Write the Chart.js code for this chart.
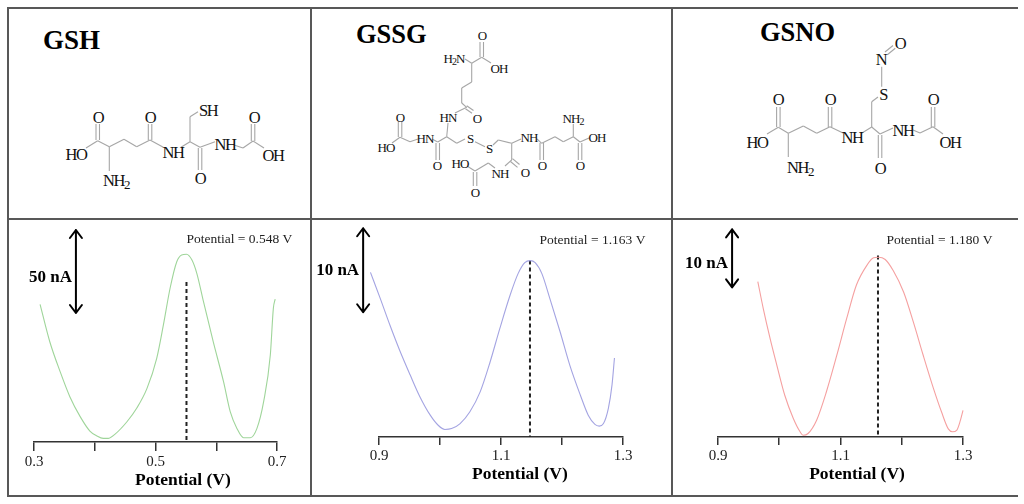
<!DOCTYPE html>
<html><head><meta charset="utf-8">
<script src="https://cdn.jsdelivr.net/npm/chart.js@4.4.1/dist/chart.umd.min.js"></script>
<style>
html,body{margin:0;padding:0;background:#fff;}
#wrap{position:relative;width:1024px;height:504px;overflow:hidden;background:#fff;}
svg{position:absolute;left:0;top:0;}
canvas{position:absolute;}
.mol text{font-family:'Liberation Serif',serif;fill:#111;text-anchor:middle;dominant-baseline:central;}
.b line{stroke:#a6a6a6;stroke-width:1.1;}
.frame line{stroke:#585858;stroke-width:2;}
.ttl{font-family:'Liberation Serif',serif;font-weight:bold;font-size:27px;fill:#000;}
</style></head><body>
<div id="wrap">
<svg width="1024" height="504">
<g class="frame">
<line x1="7" y1="8" x2="1018" y2="8"/>
<line x1="8" y1="7" x2="8" y2="497"/>
<line x1="7" y1="496" x2="1018" y2="496"/>
<line x1="7" y1="219" x2="1018" y2="219"/>
<line x1="311" y1="7" x2="311" y2="497"/>
<line x1="672" y1="7" x2="672" y2="497"/>
</g>
<text class="ttl" x="43" y="49">GSH</text>
<text class="ttl" x="356" y="43" style="font-size:26.5px">GSSG</text>
<text class="ttl" x="760" y="41" style="font-size:26.5px">GSNO</text>

<!-- GSH -->
<g class="mol b">
<line x1="96" y1="124" x2="96" y2="140"/><line x1="99.5" y1="124" x2="99.5" y2="140"/>
<line x1="97.7" y1="140.7" x2="86" y2="148"/>
<line x1="97.7" y1="140.7" x2="109.3" y2="146.7"/>
<line x1="109.3" y1="146.7" x2="109.3" y2="171"/>
<line x1="109.3" y1="146.7" x2="124" y2="139.3"/>
<line x1="124" y1="139.3" x2="136.7" y2="146.7"/>
<line x1="136.7" y1="146.7" x2="150" y2="140"/>
<line x1="148.3" y1="124" x2="148.3" y2="140"/><line x1="151.8" y1="124" x2="151.8" y2="140"/>
<line x1="150" y1="140" x2="163.3" y2="147.3"/>
<line x1="181" y1="147.3" x2="190" y2="141.7"/>
<line x1="190" y1="141.7" x2="190" y2="116.7"/>
<line x1="190" y1="116.7" x2="198" y2="111.7"/>
<line x1="190" y1="141.7" x2="200" y2="147.3"/>
<line x1="198.3" y1="148" x2="198.3" y2="170"/><line x1="201.8" y1="148" x2="201.8" y2="170"/>
<line x1="200" y1="147.3" x2="215" y2="141.7"/>
<line x1="234" y1="145" x2="243" y2="148"/>
<line x1="243" y1="148" x2="253" y2="141"/>
<line x1="251.3" y1="124" x2="251.3" y2="141"/><line x1="254.8" y1="124" x2="254.8" y2="141"/>
<line x1="253" y1="141" x2="264" y2="148"/>
</g>
<g class="mol" style="font-size:16.5px;letter-spacing:-1.5px">
<text x="98" y="117">O</text>
<text x="76" y="154">HO</text>
<text x="116" y="180">NH<tspan dy="4" style="font-size:13px">2</tspan></text>
<text x="150" y="117">O</text>
<text x="173" y="152">NH</text>
<text x="208" y="110">SH</text>
<text x="200" y="178">O</text>
<text x="225" y="144">NH</text>
<text x="254" y="117">O</text>
<text x="273" y="155">OH</text>
</g>

<!-- GSSG -->
<g class="mol b">
<line x1="480" y1="42" x2="480" y2="57"/><line x1="483.5" y1="42" x2="483.5" y2="57"/>
<line x1="481.7" y1="57.3" x2="491" y2="63"/>
<line x1="481.7" y1="57.3" x2="471.7" y2="63.3"/>
<line x1="471.7" y1="63.3" x2="465" y2="59"/>
<line x1="471.7" y1="63.3" x2="471.7" y2="82"/>
<line x1="471.7" y1="82" x2="461.7" y2="88"/>
<line x1="461.7" y1="88" x2="461.7" y2="103"/>
<line x1="461.7" y1="103" x2="466.7" y2="107.3"/>
<line x1="466.7" y1="105.8" x2="473.5" y2="110.5"/><line x1="465.5" y1="108.8" x2="472" y2="113.2"/>
<line x1="466.7" y1="107.3" x2="455" y2="113"/>
<line x1="448" y1="123" x2="446.7" y2="136.7"/>
<line x1="398.3" y1="122" x2="398.3" y2="137"/><line x1="401.8" y1="122" x2="401.8" y2="137"/>
<line x1="400" y1="137.3" x2="392" y2="143"/>
<line x1="400" y1="137.3" x2="410" y2="141.7"/>
<line x1="410" y1="141.7" x2="418" y2="139"/>
<line x1="432" y1="139" x2="437.7" y2="142"/>
<line x1="436" y1="143" x2="436" y2="160"/><line x1="439.5" y1="143" x2="439.5" y2="160"/>
<line x1="437.7" y1="142" x2="446.7" y2="136.7"/>
<line x1="446.7" y1="136.7" x2="456.7" y2="143.3"/>
<line x1="456.7" y1="143.3" x2="465" y2="139"/>
<line x1="475" y1="141.7" x2="485" y2="146.7"/>
<line x1="493" y1="145" x2="498.3" y2="140"/>
<line x1="498.3" y1="140" x2="511.7" y2="143.3"/>
<line x1="511.7" y1="143.3" x2="521" y2="139"/>
<line x1="537" y1="139" x2="541.7" y2="143.3"/>
<line x1="540" y1="143" x2="540" y2="160"/><line x1="543.5" y1="143" x2="543.5" y2="160"/>
<line x1="541.7" y1="143.3" x2="555" y2="136.7"/>
<line x1="555" y1="136.7" x2="563.3" y2="141.7"/>
<line x1="563.3" y1="141.7" x2="573.3" y2="136.7"/>
<line x1="573.3" y1="136.7" x2="573.3" y2="124"/>
<line x1="573.3" y1="136.7" x2="580" y2="142"/>
<line x1="578.3" y1="143" x2="578.3" y2="160"/><line x1="581.8" y1="143" x2="581.8" y2="160"/>
<line x1="580" y1="142" x2="589" y2="138"/>
<line x1="511.7" y1="143.3" x2="511.7" y2="160"/>
<line x1="512.5" y1="158.7" x2="519.5" y2="164.5"/><line x1="510.5" y1="161.5" x2="517.5" y2="167.3"/>
<line x1="511.7" y1="160" x2="505" y2="166"/>
<line x1="495" y1="168" x2="488.3" y2="163"/>
<line x1="488.3" y1="163" x2="475" y2="171"/>
<line x1="475" y1="171" x2="467" y2="166"/>
<line x1="473.3" y1="172" x2="473.3" y2="186"/><line x1="476.8" y1="172" x2="476.8" y2="186"/>
</g>
<g class="mol" style="font-size:13px;letter-spacing:-1px">
<text x="482" y="35">O</text>
<text x="454" y="58">H<tspan dy="3" style="font-size:10px">2</tspan><tspan dy="-3">N</tspan></text>
<text x="499" y="68">OH</text>
<text x="448" y="117">HN</text>
<text x="477" y="118">O</text>
<text x="400" y="117">O</text>
<text x="386" y="147">HO</text>
<text x="425" y="138">HN</text>
<text x="470" y="138">S</text>
<text x="489" y="148">S</text>
<text x="529" y="137">NH</text>
<text x="573" y="118">NH<tspan dy="3" style="font-size:10px">2</tspan></text>
<text x="597" y="137">OH</text>
<text x="437" y="165">O</text>
<text x="460" y="163">HO</text>
<text x="500" y="173">NH</text>
<text x="525" y="172">O</text>
<text x="542" y="165">O</text>
<text x="580" y="165">O</text>
<text x="475" y="192">O</text>
</g>

<!-- GSNO -->
<g class="mol b">
<line x1="885" y1="52" x2="893" y2="45.5"/><line x1="887.3" y1="54.8" x2="895.3" y2="48.3"/>
<line x1="881.7" y1="66.7" x2="881.7" y2="86.7"/>
<line x1="878" y1="97" x2="871.7" y2="101.7"/>
<line x1="871.7" y1="101.7" x2="871.7" y2="127"/>
<line x1="776.6" y1="107" x2="776.6" y2="127"/><line x1="780.1" y1="107" x2="780.1" y2="127"/>
<line x1="778.3" y1="127.3" x2="767" y2="134"/>
<line x1="778.3" y1="127.3" x2="788.3" y2="133.3"/>
<line x1="788.3" y1="133.3" x2="788.3" y2="157"/>
<line x1="788.3" y1="133.3" x2="803.3" y2="126"/>
<line x1="803.3" y1="126" x2="816.7" y2="133.3"/>
<line x1="816.7" y1="133.3" x2="830" y2="126.7"/>
<line x1="828.3" y1="107" x2="828.3" y2="127"/><line x1="831.8" y1="107" x2="831.8" y2="127"/>
<line x1="830" y1="126.7" x2="843" y2="133"/>
<line x1="862" y1="133" x2="871.7" y2="127"/>
<line x1="871.7" y1="127" x2="880" y2="134"/>
<line x1="878.3" y1="135" x2="878.3" y2="158"/><line x1="881.8" y1="135" x2="881.8" y2="158"/>
<line x1="880" y1="134" x2="893" y2="128"/>
<line x1="913" y1="130" x2="920" y2="133"/>
<line x1="920" y1="133" x2="933" y2="126.7"/>
<line x1="931.3" y1="107" x2="931.3" y2="127"/><line x1="934.8" y1="107" x2="934.8" y2="127"/>
<line x1="933" y1="126.7" x2="943" y2="134"/>
</g>
<g class="mol" style="font-size:16.5px;letter-spacing:-1.5px">
<text x="900" y="43">O</text>
<text x="881" y="59">N</text>
<text x="883" y="94">S</text>
<text x="778" y="99">O</text>
<text x="757" y="142">HO</text>
<text x="800" y="167">NH<tspan dy="4" style="font-size:13px">2</tspan></text>
<text x="830" y="99">O</text>
<text x="852" y="137">NH</text>
<text x="880" y="168">O</text>
<text x="903" y="130">NH</text>
<text x="933" y="99">O</text>
<text x="950" y="142">OH</text>
</g>
</svg>
<canvas id="c1" width="302" height="274" style="left:8px;top:221px;width:302px;height:274px"></canvas>
<canvas id="c2" width="359" height="274" style="left:312px;top:221px;width:359px;height:274px"></canvas>
<canvas id="c3" width="345" height="274" style="left:673px;top:221px;width:345px;height:274px"></canvas>
</div>
<script>
// ---- Data (potential in V, current in nA relative to axis baseline) ----
const gshPotential = [0.310,0.326,0.343,0.359,0.376,0.392,0.403,0.414,0.422,0.433,0.453,0.469,0.486,0.502,0.513,0.524,0.535,0.543,0.551,0.560,0.568,0.579,0.595,0.612,0.623,0.634,0.645,0.656,0.667,0.678,0.689,0.694,0.697];
const gshCurrent   = [82.9,60.4,42.4,27.3,15.3,6.6,3.8,2.2,2.2,4.6,12.2,20.3,32.3,50.4,70.5,92.6,108.6,112.7,113.1,109.6,101.6,84.5,60.4,36.3,18.3,8.2,2.6,2.6,8.2,24.3,52.4,80.5,86.1];

const gssgPotential = [0.886,0.902,0.918,0.934,0.951,0.967,0.984,0.997,1.008,1.019,1.033,1.049,1.066,1.082,1.098,1.115,1.128,1.139,1.148,1.156,1.167,1.180,1.197,1.213,1.230,1.243,1.254,1.261,1.268,1.276,1.282,1.286];
const gssgCurrent   = [19.6,16.5,13.3,10.3,7.4,4.8,2.6,1.4,0.9,1.0,1.6,3.0,5.4,8.9,12.9,16.9,19.45,20.76,21.0,20.76,19.45,16.5,12.5,8.5,5.0,2.6,1.5,1.3,1.6,3.4,6.2,9.4];

const gsnoPotential = [0.965,0.974,0.985,0.996,1.009,1.023,1.034,1.039,1.047,1.061,1.077,1.094,1.110,1.126,1.143,1.154,1.162,1.173,1.186,1.203,1.219,1.235,1.252,1.265,1.276,1.283,1.290,1.295,1.300];
const gsnoCurrent   = [26.8,22.1,17.0,12.4,7.2,3.2,0.9,0.3,0.6,2.9,7.8,14.1,20.4,26.2,29.6,30.9,31.0,30.6,28.7,25.0,19.8,14.1,8.3,4.3,1.4,0.9,1.2,2.6,4.6];

const peakPotential = [0.551, 1.1475, 1.1612];       // dashed marker positions
const peakMarkTop   = [96.4, 21.0, 31.3];             // dashed marker top (nA)
const peakLabels    = ['Potential = 0.548 V','Potential = 1.163 V','Potential = 1.180 V'];
const scaleBarNA    = [50, 10, 10];
const scaleLabels   = ['50 nA','10 nA','10 nA'];
const tickLabels1   = ['0.3','0.5','0.7'];
const tickLabels23  = ['0.9','1.1','1.3'];
const axisTitle     = 'Potential (V)';

Chart.defaults.font.family = "'Liberation Serif', serif";

const annot = {
  id: 'annot',
  afterDatasetsDraw(chart, args, o) {
    const {ctx, chartArea} = chart;
    const x = chart.scales.x, y = chart.scales.y;
    ctx.save();
    const ax = x.getPixelForValue(o.arrowX);
    const ay1 = y.getPixelForValue(o.arrowTop);
    const ay2 = y.getPixelForValue(o.arrowTop - o.arrowSpan);
    ctx.strokeStyle = '#000'; ctx.lineWidth = 2; ctx.lineCap = 'round'; ctx.lineJoin = 'round';
    ctx.beginPath();
    ctx.moveTo(ax, ay1); ctx.lineTo(ax, ay2);
    ctx.moveTo(ax - 6, ay1 + 8); ctx.lineTo(ax, ay1); ctx.lineTo(ax + 6, ay1 + 8);
    ctx.moveTo(ax - 6, ay2 - 8); ctx.lineTo(ax, ay2); ctx.lineTo(ax + 6, ay2 - 8);
    ctx.stroke();
    ctx.fillStyle = '#000';
    ctx.font = "bold 17px 'Liberation Serif'";
    ctx.textAlign = 'right'; ctx.textBaseline = 'middle';
    ctx.fillText(o.scaleText, ax - 4, y.getPixelForValue(o.scaleTextY));
    ctx.font = "13.5px 'Liberation Serif'";
    ctx.textAlign = 'center'; ctx.fillStyle = '#222';
    ctx.fillText(o.peakText, x.getPixelForValue(o.peakTextX), y.getPixelForValue(o.peakTextY));
    ctx.font = "bold 17.5px 'Liberation Serif'"; ctx.fillStyle = '#000';
    ctx.fillText(axisTitle, x.getPixelForValue(o.titleX), chartArea.bottom + o.titleDy);
    ctx.restore();
  }
};

function makeChart(id, xs, ys, idx, cfg) {
  const pts = xs.map((v, i) => ({x: v, y: ys[i]}));
  const dash = [{x: peakPotential[idx], y: peakMarkTop[idx]}, {x: peakPotential[idx], y: 0}];
  return new Chart(document.getElementById(id), {
    type: 'line',
    data: { datasets: [
      { data: pts, borderColor: cfg.color, borderWidth: 1.1, pointRadius: 0, cubicInterpolationMode: 'monotone', fill: false, clip: false },
      { data: dash, borderColor: '#222', borderWidth: 2, borderDash: [4, 3], pointRadius: 0, fill: false, clip: false }
    ]},
    options: {
      responsive: false, animation: false, devicePixelRatio: 1,
      layout: { padding: cfg.pad },
      plugins: { legend: {display: false}, tooltip: {enabled: false}, annot: cfg.annot },
      scales: {
        x: {
          type: 'linear', min: cfg.min, max: cfg.max,
          afterFit: s => { s.height = cfg.xh; },
          border: { display: true, color: '#333', width: 1.5 },
          grid: { drawOnChartArea: false, drawTicks: true, tickLength: cfg.tl, color: '#333', lineWidth: 1.5 },
          ticks: {
            stepSize: 0.1, padding: 2, color: '#222', font: {size: 15},
            maxRotation: 0, autoSkip: false,
            callback: v => { const s = Number(v).toFixed(1); return cfg.labels.includes(s) ? s : ''; }
          }
        },
        y: { display: false, min: 0, max: cfg.ymax }
      }
    },
    plugins: [annot]
  });
}

makeChart('c1', gshPotential, gshCurrent, 0, {
  color: '#9fd59a', min: 0.3, max: 0.7, xh: 53, tl: 9, ymax: 130.1, labels: tickLabels1,
  pad: {left: 26, right: 33, top: 5, bottom: 0},
  annot: {arrowX: 0.369, arrowTop: 127.7, arrowSpan: scaleBarNA[0], scaleText: scaleLabels[0], scaleTextY: 98.8,
          peakText: peakLabels[0], peakTextX: 0.638, peakTextY: 121.7, titleX: 0.545, titleDy: 38}
});
makeChart('c2', gssgPotential, gssgCurrent, 1, {
  color: '#a4a4e2', min: 0.9, max: 1.3, xh: 58, tl: 8, ymax: 25.12, labels: tickLabels23,
  pad: {left: 67, right: 48, top: 5, bottom: 0},
  annot: {arrowX: 0.874, arrowTop: 24.85, arrowSpan: scaleBarNA[1], scaleText: scaleLabels[1], scaleTextY: 19.8,
          peakText: peakLabels[1], peakTextX: 1.25, peakTextY: 23.4, titleX: 1.131, titleDy: 37}
});
makeChart('c3', gsnoPotential, gsnoCurrent, 2, {
  color: '#f5a0a0', min: 0.9, max: 1.3, xh: 58, tl: 8, ymax: 36.38, labels: tickLabels23,
  pad: {left: 45, right: 55, top: 5, bottom: 0},
  annot: {arrowX: 0.923, arrowTop: 35.8, arrowSpan: scaleBarNA[2], scaleText: scaleLabels[2], scaleTextY: 29.9,
          peakText: peakLabels[2], peakTextX: 1.2616, peakTextY: 33.9, titleX: 1.127, titleDy: 37}
});
</script>
</body></html>
